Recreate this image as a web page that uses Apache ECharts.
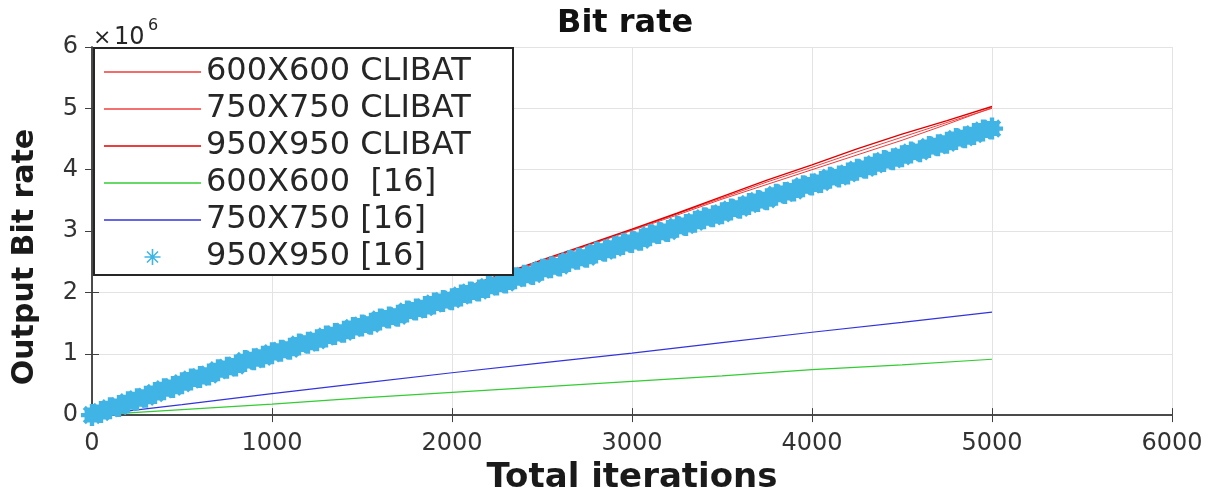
<!DOCTYPE html>
<html>
<head>
<meta charset="utf-8">
<script src="https://cdn.jsdelivr.net/npm/echarts@6/dist/echarts.min.js"></script>
<style>html,body{margin:0;padding:0;background:#fff}#c{width:1213px;height:500px}</style>
</head>
<body>
<div id="c"></div>
<script>
// ---- data (values in units of 10^6 bits) ----
const xTicks = [0, 1000, 2000, 3000, 4000, 5000, 6000];
const yTicks = [0, 1, 2, 3, 4, 5, 6];
const seriesNames = ['600X600 CLIBAT', '750X750 CLIBAT', '950X950 CLIBAT', '600X600  [16]', '750X750 [16]', '950X950 [16]'];

const redIters = [0,250,500,750,1000,1250,1500,1750,2000,2250,2500,2750,3000,3250,3500,3750,4000,4250,4500,4750,5000];
const clibat600 = [0,0.25,0.50,0.75,1.00,1.25,1.50,1.75,1.99,2.25,2.50,2.76,3.01,3.26,3.52,3.76,4.00,4.24,4.48,4.74,5.01];
const clibat750 = [0,0.25,0.50,0.75,1.00,1.25,1.50,1.75,2.00,2.26,2.51,2.77,3.02,3.28,3.54,3.80,4.04,4.29,4.53,4.77,5.00];
const clibat950 = [0,0.25,0.50,0.76,1.01,1.26,1.51,1.76,2.01,2.27,2.53,2.78,3.03,3.29,3.56,3.83,4.08,4.34,4.58,4.80,5.03];

const refIters = [0,500,1000,1500,2000,2500,3000,3500,4000,4500,5000];
const ref600 = [0,0.09,0.18,0.28,0.37,0.46,0.55,0.64,0.74,0.82,0.91];
const ref750 = [0,0.17,0.35,0.52,0.69,0.85,1.01,1.18,1.35,1.51,1.68];

const starIters = [0,50,100,150,200,250,300,350,400,450,500,550,600,650,700,750,800,850,900,950,
  1000,1050,1100,1150,1200,1250,1300,1350,1400,1450,1500,1550,1600,1650,1700,1750,1800,1850,1900,1950,
  2000,2050,2100,2150,2200,2250,2300,2350,2400,2450,2500,2550,2600,2650,2700,2750,2800,2850,2900,2950,
  3000,3050,3100,3150,3200,3250,3300,3350,3400,3450,3500,3550,3600,3650,3700,3750,3800,3850,3900,3950,
  4000,4050,4100,4150,4200,4250,4300,4350,4400,4450,4500,4550,4600,4650,4700,4750,4800,4850,4900,4950,5000];
const ref950 = [0.00,0.05,0.11,0.15,0.21,0.26,0.30,0.36,0.42,0.46,0.52,0.58,0.62,0.66,0.73,0.77,0.81,0.88,0.91,0.95,
  1.01,1.05,1.08,1.15,1.18,1.22,1.28,1.32,1.36,1.42,1.46,1.49,1.56,1.59,1.62,1.69,1.72,1.76,1.82,1.86,
  1.89,1.95,2.00,2.03,2.09,2.13,2.16,2.23,2.27,2.30,2.37,2.41,2.44,2.51,2.55,2.58,2.65,2.68,2.73,2.79,
  2.82,2.86,2.93,2.97,3.00,3.07,3.10,3.15,3.21,3.24,3.29,3.35,3.38,3.44,3.49,3.52,3.59,3.62,3.66,3.73,
  3.76,3.80,3.87,3.89,3.94,4.00,4.03,4.09,4.14,4.17,4.22,4.28,4.30,4.37,4.40,4.44,4.50,4.53,4.58,4.64,4.67];

function pairs(xs, ys) { return xs.map((x, i) => [x, ys[i]]); }

const FONT = 'DejaVu Sans';
const TXT = '#262626';
// thin asterisk for the legend, heavy asterisk for the dense marker band
const starThin = 'path://M0,45 L100,45 L100,55 L0,55 Z M45,0 L55,0 L55,100 L45,100 Z M12,19 L19,12 L88,81 L81,88 Z M81,12 L88,19 L19,88 L12,81 Z';
const starBold = 'path://M0,40 L100,40 L100,60 L0,60 Z M40,0 L60,0 L60,100 L40,100 Z M8,22 L22,8 L92,78 L78,92 Z M78,8 L92,22 L22,92 L8,78 Z M28,16 L72,16 L84,28 L84,72 L72,84 L28,84 L16,72 L16,28 Z';
const lineIcon = 'path://M0,0 L97,0 L97,1.3 L0,1.3 Z';

const chart = echarts.init(document.getElementById('c'), null, {renderer: 'canvas'});
const axisLineStyle = {color: '#404040', width: 1.5};
const tickStyle = {show: true, inside: true, length: 7, lineStyle: {color: '#404040'}};
chart.setOption({
  animation: false,
  backgroundColor: '#ffffff',
  title: {
    text: 'Bit rate', left: 557, top: 8, padding: 0,
    textStyle: {fontFamily: FONT, fontWeight: 'bold', fontSize: 32, color: '#111'}
  },
  grid: {left: 92, right: 41, top: 47, bottom: 79, containLabel: false},
  legend: {
    orient: 'vertical', left: 94, top: 48, z: 10,
    padding: [8, 12, 2, 10], itemGap: 5, itemWidth: 97, itemHeight: 16,
    backgroundColor: '#ffffff', borderColor: '#262626', borderWidth: 2,
    selectedMode: false,
    textStyle: {fontFamily: FONT, fontSize: 32, lineHeight: 32, color: TXT, width: 295},
    data: [
      {name: seriesNames[0], icon: lineIcon},
      {name: seriesNames[1], icon: lineIcon},
      {name: seriesNames[2], icon: lineIcon},
      {name: seriesNames[3], icon: lineIcon},
      {name: seriesNames[4], icon: lineIcon},
      {name: seriesNames[5], icon: starThin}
    ]
  },
  xAxis: [{
    type: 'value', min: xTicks[0], max: xTicks[xTicks.length - 1], interval: 1000,
    name: 'Total iterations', nameLocation: 'middle', nameGap: 45,
    nameTextStyle: {fontFamily: FONT, fontWeight: 'bold', fontSize: 34, color: '#1a1a1a'},
    axisLine: {show: true, lineStyle: axisLineStyle},
    axisTick: tickStyle,
    axisLabel: {fontFamily: FONT, fontSize: 24, color: '#333', margin: 17, formatter: v => String(v)},
    splitLine: {show: true, lineStyle: {color: '#e3e3e3', width: 1}}
  }, {
    type: 'value', position: 'top', min: xTicks[0], max: xTicks[xTicks.length - 1], interval: 1000,
    axisLine: {show: true, lineStyle: axisLineStyle},
    axisTick: tickStyle,
    axisLabel: {show: false}, splitLine: {show: false}
  }],
  yAxis: [{
    type: 'value', min: yTicks[0], max: yTicks[yTicks.length - 1], interval: 1,
    name: 'Output Bit rate', nameLocation: 'middle', nameGap: 52,
    nameTextStyle: {fontFamily: FONT, fontWeight: 'bold', fontSize: 30, color: '#1a1a1a', padding: [0, 52, 0, 0]},
    axisLine: {show: true, lineStyle: axisLineStyle},
    axisTick: tickStyle,
    axisLabel: {fontFamily: FONT, fontSize: 24, color: '#333', margin: 14, formatter: v => String(v)},
    splitLine: {show: true, lineStyle: {color: '#e3e3e3', width: 1}}
  }, {
    type: 'value', position: 'right', min: yTicks[0], max: yTicks[yTicks.length - 1], interval: 1,
    axisLine: {show: true, lineStyle: axisLineStyle},
    axisTick: tickStyle,
    axisLabel: {show: false}, splitLine: {show: false}
  }],
  graphic: [
    {type: 'text', left: 93, top: 27, style: {text: '×', font: '22px "DejaVu Sans"', fill: TXT}},
    {type: 'text', left: 114, top: 26, style: {text: '10', font: '24px "DejaVu Sans"', fill: TXT}},
    {type: 'text', left: 148, top: 18, style: {text: '6', font: '16px "DejaVu Sans"', fill: TXT}}
  ],
  series: [
    {name: seriesNames[0], type: 'line', symbol: 'none', z: 2, data: pairs(redIters, clibat600),
     lineStyle: {color: '#f03a3a', width: 1}, itemStyle: {color: '#f03a3a'}},
    {name: seriesNames[1], type: 'line', symbol: 'none', z: 2, data: pairs(redIters, clibat750),
     lineStyle: {color: '#f04040', width: 1}, itemStyle: {color: '#f04040'}},
    {name: seriesNames[2], type: 'line', symbol: 'none', z: 2, data: pairs(redIters, clibat950),
     lineStyle: {color: '#e00000', width: 1.4}, itemStyle: {color: '#e00000'}},
    {name: seriesNames[3], type: 'line', symbol: 'none', z: 2, data: pairs(refIters, ref600),
     lineStyle: {color: '#33cc33', width: 1.2}, itemStyle: {color: '#33cc33'}},
    {name: seriesNames[4], type: 'line', symbol: 'none', z: 2, data: pairs(refIters, ref750),
     lineStyle: {color: '#3333dd', width: 1.2}, itemStyle: {color: '#3333dd'}},
    {name: seriesNames[5], type: 'scatter', symbol: starBold, symbolSize: 22, z: 5,
     data: pairs(starIters, ref950), itemStyle: {color: '#41b4e6', opacity: 1}}
  ]
});
</script>
</body>
</html>
